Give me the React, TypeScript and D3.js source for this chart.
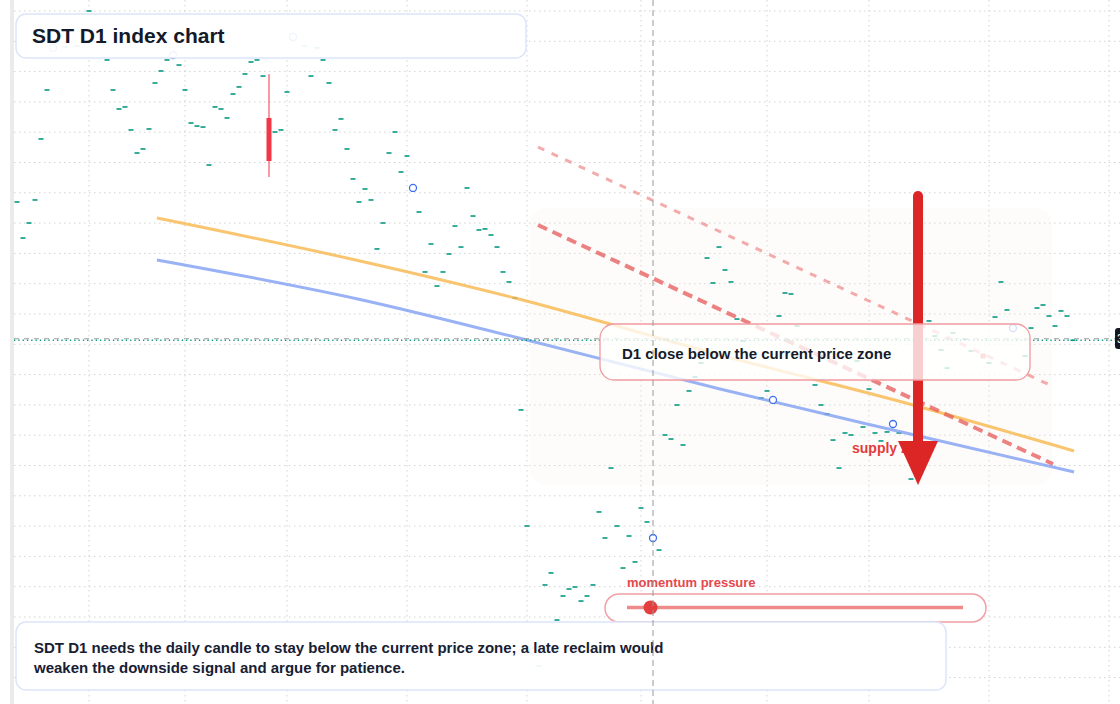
import { useEffect, useRef } from 'react';
import * as d3 from 'd3';

const WIDTH = 1120;
const HEIGHT = 704;
const FONT = '"Liberation Sans", Arial, Helvetica, sans-serif';

// [day index, close] - doji-like daily candles
const candles: [number, number][] = [
  [0, 51.09], [1, 47.52], [2, 49.01], [3, 51.29], [4, 57.33], [5, 62.18], [6, 66.34], [8, 66.44],
  [10, 66.53], [12, 70.0], [15, 65.15], [16, 62.18], [17, 60.3], [18, 60.5], [19, 58.22], [20, 55.94],
  [21, 56.34], [22, 58.32], [23, 62.87], [24, 64.06], [25, 65.15], [26, 65.64], [27, 64.65], [28, 62.18],
  [29, 58.91], [30, 58.61], [31, 58.51], [32, 54.75], [33, 60.5], [34, 60.3], [35, 59.41], [36, 61.78],
  [37, 62.48], [38, 63.76], [39, 64.95], [40, 65.15], [41, 63.56], [43, 58.02], [44, 58.22], [45, 61.98],
  [46, 67.43], [48, 66.53], [49, 63.56], [50, 66.34], [51, 65.15], [52, 62.87], [53, 58.22], [54, 59.31],
  [55, 56.34], [56, 53.37], [57, 51.09], [58, 52.38], [59, 51.29], [60, 46.44], [61, 49.01], [62, 55.94],
  [63, 58.02], [64, 54.06], [65, 55.64], [66, 52.48], [67, 50.1], [68, 44.16], [69, 46.93], [70, 42.77],
  [71, 44.16], [72, 45.94], [73, 48.71], [74, 46.63], [75, 52.48], [76, 49.7], [77, 48.32], [78, 48.42],
  [79, 47.82], [80, 46.63], [81, 44.16], [82, 43.17], [83, 41.58], [84, 30.5], [85, 19.01], [86, 6.6],
  [87, 5.15], [88, 13.17], [89, 14.36], [90, 9.7], [91, 12.08], [92, 12.77], [93, 12.97], [94, 11.58],
  [95, 12.08], [96, 13.17], [97, 20.4], [98, 17.82], [99, 24.75], [100, 19.01], [101, 14.85], [102, 18.02],
  [103, 15.45], [104, 20.79], [105, 19.41], [106, 17.82], [107, 16.63], [108, 28.02], [109, 27.62],
  [110, 30.99], [111, 27.03], [112, 32.38], [113, 33.76], [114, 35.15], [115, 45.54], [116, 43.07],
  [117, 46.63], [118, 44.36], [119, 43.17], [120, 39.5], [121, 37.33], [124, 31.68], [125, 32.38],
  [126, 31.49], [127, 39.8], [128, 42.08], [129, 41.98], [130, 38.81], [133, 32.97], [134, 30.99],
  [135, 30.1], [136, 27.52], [137, 24.75], [138, 28.22], [139, 28.02], [140, 35.35], [141, 28.81],
  [142, 32.57], [143, 28.22], [144, 27.43], [145, 28.32], [146, 29.11], [147, 28.22], [149, 23.66],
  [150, 39.5], [152, 39.31], [153, 37.82], [154, 36.44], [155, 34.65], [156, 38.12], [158, 37.52],
  [159, 36.34], [161, 35.84], [162, 35.15], [163, 39.7], [164, 43.17], [165, 40.4], [166, 38.61],
  [168, 35.84], [169, 38.61], [170, 40.59], [171, 40.89], [172, 39.8], [173, 38.81], [174, 40.3],
  [175, 39.8], [176, 37.4],
];

const signalCandle = { day: 42, open: 59.41, high: 63.76, low: 53.56, close: 55.15 };
const markerDays = [6, 26, 46, 66, 86, 106, 126, 146, 166];
const flagDays = [161];

const gridDays = [12, 28, 45, 65, 85, 104, 125, 142, 162, 182];
const gridPrices = d3.range(70, 0, -3);

// moving averages: [day, value]
const slowAverage: [number, number][] = [
  [23.33, 49.5], [57.17, 45.25], [83, 41.58], [117.17, 35.94], [149.33, 30.99], [176.17, 26.44],
];
const fastAverage: [number, number][] = [
  [23.33, 45.35], [57.17, 41.44], [84.33, 37.52], [117.17, 32.57], [146, 28.51], [176.17, 24.36],
];

const upperChannel: [number, number][] = [[86.83, 56.53], [172.5, 32.87]];
const lowerChannel: [number, number][] = [[86.83, 48.81], [172.67, 25.15]];

const supplyZone = { from: 85.5, to: 172.5, top: 50.5, bottom: 23.07 };
const signalArrow = { day: 150.17, from: 51.68, base: 27.43, to: 23.07 };
const lastPrice = 37.4;
const crosshair = { day: 106, price: 37.55 };
const momentumLevel = 0.07;

const titleText = 'SDT D1 index chart';
const calloutText = 'D1 close below the current price zone';
const zoneText = 'supply zone';
const momentumText = 'momentum pressure';
const noteLines = [
  'SDT D1 needs the daily candle to stay below the current price zone; a late reclaim would',
  'weaken the downside signal and argue for patience.',
];

export default function App() {
  const svgRef = useRef<SVGSVGElement>(null);

  useEffect(() => {
    if (!svgRef.current) return;
    const svg = d3.select(svgRef.current);
    svg.selectAll('*').remove();

    const x = d3.scaleLinear().domain([0, 183]).range([17, 1115]);
    const y = d3.scaleLinear().domain([70, 0]).range([11, 718]);

    svg.append('rect').attr('width', WIDTH).attr('height', HEIGHT).attr('fill', '#ffffff');
    svg.append('rect').attr('x', 10).attr('y', 0).attr('width', 4).attr('height', HEIGHT).attr('fill', '#ebebeb');

    // grid
    const grid = svg.append('g').attr('stroke', '#d2d2d2').attr('stroke-dasharray', '1.5,3.5');
    grid
      .selectAll('line.h')
      .data(gridPrices)
      .join('line')
      .attr('class', 'h')
      .attr('x1', 14)
      .attr('x2', WIDTH)
      .attr('y1', (d) => y(d))
      .attr('y2', (d) => y(d));
    grid
      .selectAll('line.v')
      .data(gridDays)
      .join('line')
      .attr('class', 'v')
      .attr('x1', (d) => x(d))
      .attr('x2', (d) => x(d))
      .attr('y1', 0)
      .attr('y2', HEIGHT);

    // supply zone
    svg
      .append('rect')
      .attr('x', x(supplyZone.from))
      .attr('y', y(supplyZone.top))
      .attr('width', x(supplyZone.to) - x(supplyZone.from))
      .attr('height', y(supplyZone.bottom) - y(supplyZone.top))
      .attr('rx', 16)
      .attr('fill', '#fbeee4')
      .attr('opacity', 0.2);

    // candles
    svg
      .append('g')
      .selectAll('rect')
      .data(candles)
      .join('rect')
      .attr('x', (d) => x(d[0]) - 2.5)
      .attr('y', (d) => y(d[1]) - 0.8)
      .attr('width', 5)
      .attr('height', 1.6)
      .attr('fill', '#089981');

    const sc = signalCandle;
    svg
      .append('line')
      .attr('x1', x(sc.day))
      .attr('x2', x(sc.day))
      .attr('y1', y(sc.high))
      .attr('y2', y(sc.low))
      .attr('stroke', '#f23645')
      .attr('stroke-width', 1);
    svg
      .append('rect')
      .attr('x', x(sc.day) - 2.5)
      .attr('y', y(sc.open))
      .attr('width', 5)
      .attr('height', y(sc.close) - y(sc.open))
      .attr('fill', '#f23645');

    // averages
    const line = d3
      .line<[number, number]>()
      .x((d) => x(d[0]))
      .y((d) => y(d[1]))
      .curve(d3.curveMonotoneX);
    svg
      .append('path')
      .attr('d', line(slowAverage))
      .attr('fill', 'none')
      .attr('stroke', '#f8b64c')
      .attr('stroke-width', 3)
      .attr('opacity', 0.8);
    svg
      .append('path')
      .attr('d', line(fastAverage))
      .attr('fill', 'none')
      .attr('stroke', '#7f9ff3')
      .attr('stroke-width', 3)
      .attr('opacity', 0.8);

    // channel
    const straight = d3
      .line<[number, number]>()
      .x((d) => x(d[0]))
      .y((d) => y(d[1]));
    svg
      .append('path')
      .attr('d', straight(upperChannel))
      .attr('fill', 'none')
      .attr('stroke', '#ef8f8f')
      .attr('stroke-width', 3)
      .attr('stroke-dasharray', '7,8')
      .attr('opacity', 0.75);
    svg
      .append('path')
      .attr('d', straight(lowerChannel))
      .attr('fill', 'none')
      .attr('stroke', '#e65858')
      .attr('stroke-width', 4)
      .attr('stroke-dasharray', '10,6')
      .attr('opacity', 0.75);

    // markers
    const closeOf = new Map(candles.map((d) => [d[0], d[1]]));
    svg
      .append('g')
      .selectAll('circle')
      .data(markerDays.filter((d) => closeOf.has(d)))
      .join('circle')
      .attr('cx', (d) => x(d))
      .attr('cy', (d) => y(closeOf.get(d) as number))
      .attr('r', 3.5)
      .attr('fill', '#ffffff')
      .attr('stroke', '#3d6ff0')
      .attr('stroke-width', 1.3);
    svg
      .append('g')
      .selectAll('rect')
      .data(flagDays)
      .join('rect')
      .attr('x', (d) => x(d) - 2.5)
      .attr('y', (d) => y(closeOf.get(d) as number) - 2.5)
      .attr('width', 5)
      .attr('height', 5)
      .attr('fill', '#f07070');

    // horizontal crosshair + last price line
    svg
      .append('line')
      .attr('x1', 14)
      .attr('x2', 1115)
      .attr('y1', y(crosshair.price))
      .attr('y2', y(crosshair.price))
      .attr('stroke', '#9e9e9e')
      .attr('stroke-dasharray', '5,5');
    svg
      .append('line')
      .attr('x1', 14)
      .attr('x2', 1115)
      .attr('y1', y(lastPrice))
      .attr('y2', y(lastPrice))
      .attr('stroke', '#089981')
      .attr('stroke-width', 1.3)
      .attr('stroke-dasharray', '1.3,3');

    svg
      .append('text')
      .attr('x', 852)
      .attr('y', 453)
      .attr('font-family', FONT)
      .attr('font-size', 14)
      .attr('font-weight', 700)
      .attr('fill', '#e23b3b')
      .text(zoneText);

    // arrow
    const ax = x(signalArrow.day);
    svg
      .append('line')
      .attr('x1', ax)
      .attr('x2', ax)
      .attr('y1', y(signalArrow.from))
      .attr('y2', y(signalArrow.base) + 4)
      .attr('stroke', '#dc2626')
      .attr('stroke-width', 10)
      .attr('stroke-linecap', 'round');
    svg
      .append('path')
      .attr(
        'd',
        `M${ax - 20},${y(signalArrow.base)}L${ax + 20},${y(signalArrow.base)}L${ax},${y(signalArrow.to)}Z`
      )
      .attr('fill', '#dc2626');

    // callout
    svg
      .append('rect')
      .attr('x', 600)
      .attr('y', 324)
      .attr('width', 430)
      .attr('height', 56)
      .attr('rx', 14)
      .attr('fill', '#ffffff')
      .attr('fill-opacity', 0.78)
      .attr('stroke', '#ef9aa0')
      .attr('stroke-width', 1.3);
    svg
      .append('text')
      .attr('x', 622)
      .attr('y', 359)
      .attr('font-family', FONT)
      .attr('font-size', 15)
      .attr('font-weight', 700)
      .attr('fill', '#141b2b')
      .text(calloutText);

    // title box
    svg
      .append('rect')
      .attr('x', 16)
      .attr('y', 14)
      .attr('width', 510)
      .attr('height', 44)
      .attr('rx', 10)
      .attr('fill', '#ffffff')
      .attr('fill-opacity', 0.92)
      .attr('stroke', '#dbe6fb')
      .attr('stroke-width', 1.5);
    svg
      .append('text')
      .attr('x', 32)
      .attr('y', 43)
      .attr('font-family', FONT)
      .attr('font-size', 21)
      .attr('font-weight', 700)
      .attr('fill', '#121a2b')
      .text(titleText);

    // momentum pill
    svg
      .append('text')
      .attr('x', 627)
      .attr('y', 587)
      .attr('font-family', FONT)
      .attr('font-size', 13)
      .attr('font-weight', 700)
      .attr('fill', '#e5484d')
      .text(momentumText);
    svg
      .append('rect')
      .attr('x', 605)
      .attr('y', 594)
      .attr('width', 381)
      .attr('height', 28)
      .attr('rx', 14)
      .attr('fill', '#ffffff')
      .attr('stroke', '#f0a0a4')
      .attr('stroke-width', 1.5);
    const bar = d3.scaleLinear().domain([0, 1]).range([627, 963]);
    svg
      .append('line')
      .attr('x1', bar(0))
      .attr('x2', bar(1))
      .attr('y1', 607.5)
      .attr('y2', 607.5)
      .attr('stroke', '#ef8a8a')
      .attr('stroke-width', 3.5);
    svg
      .append('circle')
      .attr('cx', bar(momentumLevel))
      .attr('cy', 607.5)
      .attr('r', 7)
      .attr('fill', '#e53e3e');

    // note box
    svg
      .append('rect')
      .attr('x', 16)
      .attr('y', 622)
      .attr('width', 930)
      .attr('height', 68)
      .attr('rx', 10)
      .attr('fill', '#ffffff')
      .attr('fill-opacity', 0.92)
      .attr('stroke', '#dbe6fb')
      .attr('stroke-width', 1.5);
    svg
      .append('g')
      .selectAll('text')
      .data(noteLines)
      .join('text')
      .attr('x', 34)
      .attr('y', (_, i) => 653 + i * 20)
      .attr('font-family', FONT)
      .attr('font-size', 15)
      .attr('font-weight', 700)
      .attr('fill', '#172033')
      .text((d) => d);

    // vertical crosshair
    svg
      .append('line')
      .attr('x1', x(crosshair.day))
      .attr('x2', x(crosshair.day))
      .attr('y1', 0)
      .attr('y2', HEIGHT)
      .attr('stroke', '#999999')
      .attr('stroke-dasharray', '6,4');

    // price label (clipped by the window edge, as in the source)
    svg
      .append('rect')
      .attr('x', 1115)
      .attr('y', 328)
      .attr('width', 50)
      .attr('height', 21)
      .attr('rx', 3)
      .attr('fill', '#131722');
    svg
      .append('text')
      .attr('x', 1117)
      .attr('y', 343)
      .attr('font-family', FONT)
      .attr('font-size', 12)
      .attr('fill', '#ffffff')
      .text(lastPrice.toFixed(2));
  }, []);

  return (
    <svg
      ref={svgRef}
      width={WIDTH}
      height={HEIGHT}
      style={{ position: 'absolute', left: 0, top: 0, display: 'block' }}
    />
  );
}
